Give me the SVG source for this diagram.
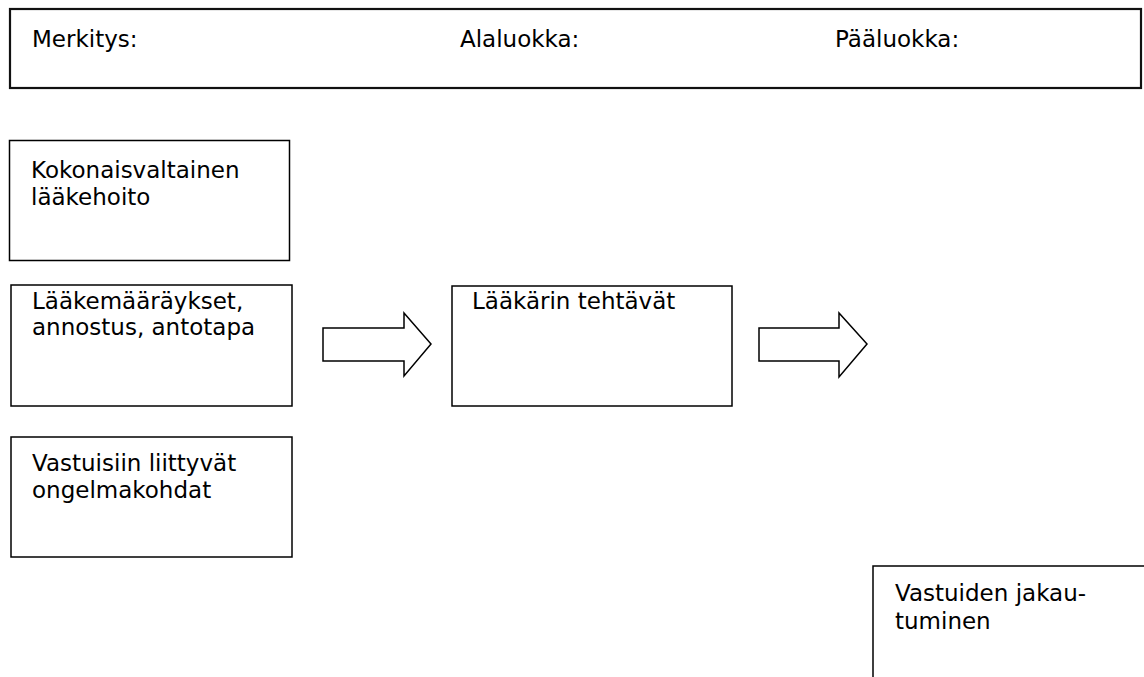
<svg xmlns="http://www.w3.org/2000/svg" width="1144" height="677" viewBox="0 0 1144 677">
<style>
.box{fill:#fff;stroke:#000;stroke-width:1.5}
.head{fill:#fff;stroke:#111;stroke-width:2.2}
.arrow{fill:#fff;stroke:#000;stroke-width:1.5;stroke-linejoin:miter}
text{font-family:"DejaVu Sans",Verdana,sans-serif;font-size:23px;fill:#000}
</style>
<rect width="1144" height="677" fill="#fff"/>
<g id="header">
<rect class="head" x="10" y="9" width="1131" height="79"/>
<text x="32" y="47">Merkitys:</text>
<text x="460" y="47">Alaluokka:</text>
<text x="835" y="47">Pääluokka:</text>
</g>
<g id="node-kokonaisvaltainen">
<rect class="box" x="9.5" y="140.5" width="280" height="120"/>
<text x="31" y="178">Kokonaisvaltainen</text>
<text x="31" y="205">lääkehoito</text>
</g>
<g id="node-laakemaaraykset">
<rect class="box" x="11" y="285" width="281" height="121"/>
<text x="32" y="309">Lääkemääräykset,</text>
<text x="32" y="335">annostus, antotapa</text>
</g>
<g id="node-vastuisiin">
<rect class="box" x="11" y="437" width="281" height="120"/>
<text x="32" y="471">Vastuisiin liittyvät</text>
<text x="32" y="498">ongelmakohdat</text>
</g>
<g id="node-laakarin">
<rect class="box" x="452" y="286" width="280" height="120"/>
<text x="472" y="309">Lääkärin tehtävät</text>
</g>
<g id="node-vastuiden">
<rect class="box" x="873" y="566" width="300" height="140"/>
<text x="895" y="601">Vastuiden jakau-</text>
<text x="895" y="629">tuminen</text>
</g>
<g id="connectors">
<polygon class="arrow" points="323,328 404,328 404,313 431,344 404,376 404,361 323,361"/>
<polygon class="arrow" points="759,328 839,328 839,313 867,344 839,377 839,361 759,361"/>
</g>
</svg>
